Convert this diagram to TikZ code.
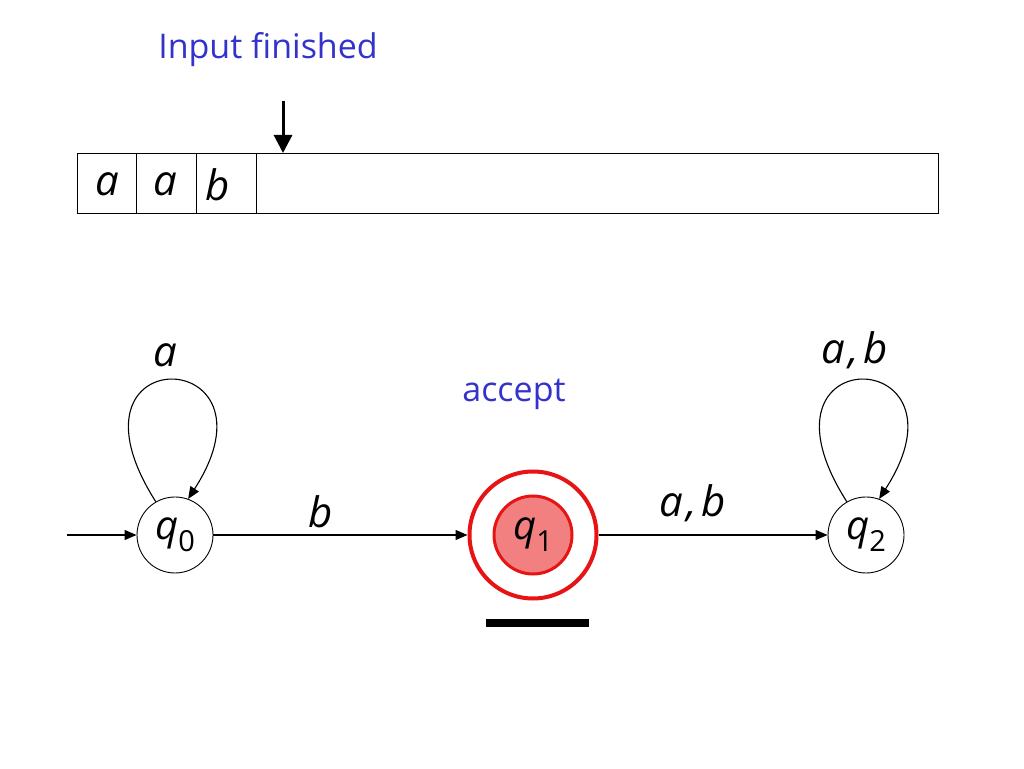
\documentclass[tikz,border=0pt]{standalone}
\usepackage{fontspec}
\setmainfont{Open Sans}
\usetikzlibrary{arrows.meta}
\definecolor{txtblue}{RGB}{51,51,204}
\definecolor{accred}{RGB}{230,20,20}
\definecolor{accfill}{RGB}{242,128,128}
\newcommand{\sym}[1]{{\fontsize{42}{46}\selectfont\itshape #1}}
\newcommand{\stname}[1]{{\fontsize{40}{44}\selectfont\itshape q\raisebox{-0.3em}{\upshape\fontsize{29}{32}\selectfont #1}}}
\newcommand{\ab}{a\kern3pt,\kern5pt b}
\tikzset{
  state/.style={circle,draw,line width=0.9pt,minimum size=76pt,inner sep=0pt},
  edge/.style={line width=1.1pt,-{Triangle[length=12pt,width=10pt]}},
  lbl/.style={inner sep=0pt},
  cell/.style={draw,line width=0.9pt}
}
\begin{document}
\begin{tikzpicture}[x=1pt,y=1pt]
\useasboundingbox[fill=white] (0,0) rectangle (1024,768);
% title
\node[lbl,text=txtblue,font=\fontsize{34}{38}\selectfont] (title) at (268,718) {Input finished};
% tape
\draw[cell] (77,555) rectangle (938,615);
\draw[cell] (136,555) -- (136,615);
\draw[cell] (196,555) -- (196,615);
\draw[cell] (256,555) -- (256,615);
\node[lbl] (c1) at (107,584) {\sym{a}};
\node[lbl] (c2) at (165,584) {\sym{a}};
\node[lbl] (c3) at (218,583) {\sym{b}};
\coordinate (hd0) at (283,667);
\coordinate (hd1) at (283,615);
\draw[line width=3pt,-{Triangle[length=18pt,width=18pt]}] (hd0) -- (hd1);
% states
\node[state] (q0) at (175,233) {\stname{0}};
\node[circle,draw=accred,line width=4pt,minimum size=127pt,inner sep=0pt] (q1o) at (533,233) {};
\node[circle,draw=accred,fill=accfill,line width=3pt,minimum size=78pt,inner sep=0pt] (q1) at (533,233) {\stname{1}};
\node[state] (q2) at (866,233) {\stname{2}};
\coordinate (init) at (67,233);
\draw[edge] (init) -- (q0);
\draw[edge] (q0) -- (q1o);
\draw[edge] (q1o) -- (q2);
\draw[edge] (q0.120) .. controls +(-105,165) and +(100,155) .. (q0.70);
\draw[edge] (q2.120) .. controls +(-105,165) and +(100,155) .. (q2.70);
% labels
\node[lbl] (lb) at (321,256) {\sym{b}};
\node[lbl] (lab) at (693,265) {\sym{\ab}};
\node[lbl] (la) at (165,413) {\sym{a}};
\node[lbl] (lab2) at (855,418) {\sym{\ab}};
\node[lbl,text=txtblue,font=\fontsize{34}{38}\selectfont] (acc) at (514,374) {accept};
% bar
\coordinate (bar0) at (486,145);
\coordinate (bar1) at (589,145);
\draw[line width=7pt] (bar0) -- (bar1);
\end{tikzpicture}
\end{document}
